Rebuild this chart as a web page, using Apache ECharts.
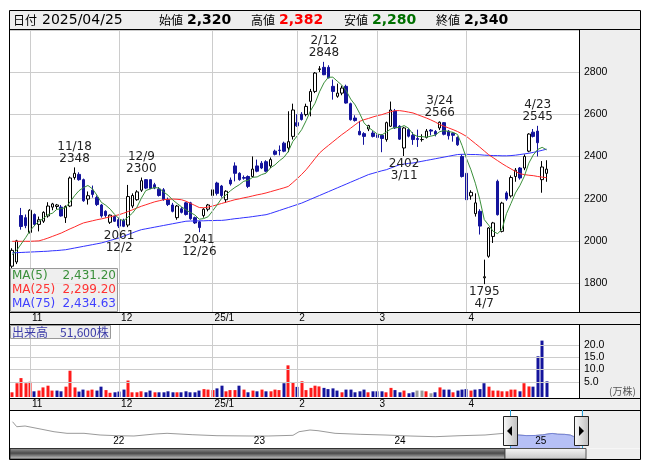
<!DOCTYPE html>
<html><head><meta charset="utf-8">
<script src="https://cdn.jsdelivr.net/npm/echarts@6.0.0/dist/echarts.min.js"></script>
<style>html,body{margin:0;padding:0;background:#fff}#c{width:653px;height:470px}</style>
</head><body><div id="c"></div><script>
const dates = [
'2024/10/28','2024/10/29','2024/10/30','2024/10/31',
'2024/11/01','2024/11/05','2024/11/06','2024/11/07','2024/11/08','2024/11/11','2024/11/12','2024/11/13','2024/11/14','2024/11/15','2024/11/18','2024/11/19','2024/11/20','2024/11/21','2024/11/22','2024/11/25','2024/11/26','2024/11/27','2024/11/28','2024/11/29',
'2024/12/02','2024/12/03','2024/12/04','2024/12/05','2024/12/06','2024/12/09','2024/12/10','2024/12/11','2024/12/12','2024/12/13','2024/12/16','2024/12/17','2024/12/18','2024/12/19','2024/12/20','2024/12/23','2024/12/24','2024/12/25','2024/12/26','2024/12/27','2024/12/30',
'2025/01/06','2025/01/07','2025/01/08','2025/01/09','2025/01/10','2025/01/14','2025/01/15','2025/01/16','2025/01/17','2025/01/20','2025/01/21','2025/01/22','2025/01/23','2025/01/24','2025/01/27','2025/01/28','2025/01/29','2025/01/30','2025/01/31',
'2025/02/03','2025/02/04','2025/02/05','2025/02/06','2025/02/07','2025/02/10','2025/02/12','2025/02/13','2025/02/14','2025/02/17','2025/02/18','2025/02/19','2025/02/20','2025/02/21','2025/02/25','2025/02/26','2025/02/27','2025/02/28',
'2025/03/03','2025/03/04','2025/03/05','2025/03/06','2025/03/07','2025/03/10','2025/03/11','2025/03/12','2025/03/13','2025/03/14','2025/03/17','2025/03/18','2025/03/19','2025/03/21','2025/03/24','2025/03/25','2025/03/26','2025/03/27','2025/03/28','2025/03/31',
'2025/04/01','2025/04/02','2025/04/03','2025/04/04','2025/04/07','2025/04/08','2025/04/09','2025/04/10','2025/04/11','2025/04/14','2025/04/15','2025/04/16','2025/04/17','2025/04/18','2025/04/21','2025/04/22','2025/04/23','2025/04/24','2025/04/25'];

const opens = [1880,1900,2120,2110,2040,2125,2078,2093,2118,2160,
2163,2160,2110,2165,2300,2315,2290,2198,2240,2205,
2170,2140,2088,2115,2100,2098,2075,2165,2195,2240,
2290,2290,2266,2245,2242,2195,2170,2110,2152,2180,
2180,2110,2090,2120,2150,2215,2274,2260,2195,2288,
2355,2320,2300,2305,2305,2355,2368,2375,2355,2425,
2430,2463,2440,2495,2560,2600,2598,2661,2708,2812,
2822,2822,2732,2685,2700,2732,2650,2582,2519,2508,
2530,2511,2503,2500,2480,2543,2615,2543,2440,2527,
2500,2485,2480,2490,2525,2518,2535,2560,2520,2510,
2490,2400,2320,2213,2129,2140,1825,1927,2021,2282,
2045,2227,2213,2305,2345,2345,2425,2515,2520,2290,2320];
const highs = [1965,2005,2156,2125,2150,2130,2115,2140,2183,2180,
2175,2170,2168,2305,2348,2325,2295,2234,2262,2215,
2175,2145,2125,2120,2110,2105,2265,2225,2240,2300,
2293,2292,2275,2255,2250,2205,2180,2170,2160,2185,
2185,2115,2095,2155,2175,2255,2280,2265,2240,2300,
2372,2325,2310,2310,2400,2385,2378,2382,2395,2432,
2452,2470,2614,2650,2600,2610,2650,2720,2800,2828,
2848,2832,2764,2745,2735,2740,2655,2595,2568,2515,
2550,2520,2510,2505,2565,2660,2625,2548,2540,2535,
2515,2527,2505,2530,2530,2525,2566,2563,2525,2515,
2495,2410,2330,2240,2225,2150,1911,2065,2090,2290,
2185,2235,2310,2345,2350,2410,2510,2530,2545,2378,2382];
const lows = [1866,1890,2053,2060,2035,2070,2045,2085,2110,2145,
2150,2115,2085,2160,2290,2285,2185,2172,2205,2165,
2110,2110,2080,2090,2061,2065,2065,2155,2190,2232,
2245,2245,2245,2210,2190,2165,2135,2100,2130,2120,
2100,2080,2041,2110,2140,2205,2215,2205,2180,2262,
2282,2285,2290,2250,2300,2325,2340,2325,2345,2405,
2405,2420,2420,2480,2540,2570,2590,2590,2700,2800,
2785,2770,2669,2678,2690,2650,2570,2565,2500,2455,
2520,2490,2470,2420,2470,2540,2530,2478,2402,2490,
2455,2445,2470,2485,2500,2495,2525,2500,2480,2470,
2450,2300,2190,2195,2115,2030,1795,1920,1990,2120,
2040,2190,2205,2280,2290,2335,2420,2490,2400,2228,2280];
const closes = [1955,2000,2068,2072,2145,2078,2100,2135,2165,2175,
2170,2118,2163,2298,2320,2290,2190,2214,2220,2172,
2118,2120,2122,2093,2070,2069,2210,2215,2232,2285,
2250,2248,2250,2215,2196,2172,2140,2165,2135,2125,
2105,2085,2063,2150,2170,2242,2225,2215,2235,2270,
2320,2290,2297,2258,2340,2330,2345,2330,2385,2410,
2428,2425,2470,2620,2545,2575,2637,2708,2795,2815,
2787,2772,2708,2700,2724,2653,2574,2570,2503,2495,
2546,2495,2490,2485,2560,2620,2535,2482,2535,2496,
2480,2480,2480,2520,2520,2505,2562,2505,2498,2500,
2455,2305,2195,2230,2180,2070,1830,2061,2085,2124,
2179,2198,2300,2335,2298,2400,2506,2495,2465,2350,2340];
const volumes = [7000,44000,65000,44000,50000,11000,14000,27000,34000,14000,
14000,11000,30000,95000,27000,10000,18000,14000,18000,14000,
30000,16000,5000,7000,10000,18000,55000,7000,7000,11000,
7000,14000,7000,7000,7000,11000,7000,7000,7000,11000,
7000,7000,14000,20000,18000,16000,23000,34000,11000,16000,
16000,34000,18000,7000,14000,11000,18000,11000,11000,18000,
16000,44000,117000,49000,29000,52000,16000,25000,34000,31000,
25000,20000,23000,14000,7000,18000,18000,7000,11000,18000,
7000,11000,11000,11000,7000,25000,16000,7000,14000,3000,
7000,14000,14000,11000,3000,7000,27000,18000,18000,7000,
14000,18000,20000,14000,18000,20000,44000,30000,14000,14000,
11000,11000,18000,18000,11000,44000,31000,30000,154000,218000,51600];
const ma5Head = [1935,1955,1985,2015];
const ma25 = [1998,1998,1998,1998,1998,1999,2000,2006,2013,2021,
2029,2037,2047,2057,2066,2076,2085,2090,2095,2100,
2104,2109,2114,2119,2124,2131,2139,2147,2156,2164,
2171,2178,2185,2190,2195,2197,2198,2197,2195,2188,
2178,2168,2158,2157,2160,2165,2171,2177,2183,2189,
2195,2199,2204,2208,2213,2218,2222,2227,2233,2239,
2245,2251,2258,2276,2295,2315,2337,2363,2390,2416,
2435,2452,2469,2486,2503,2518,2534,2550,2566,2574,
2580,2587,2593,2598,2605,2612,2617,2617,2614,2610,
2606,2598,2590,2582,2573,2563,2551,2543,2535,2527,
2518,2507,2495,2478,2461,2444,2426,2408,2394,2380,
2366,2353,2341,2329,2318,2314,2311,2309,2305,2302,2299.2];
const ma75 = [1943,1944,1945,1946,1947,1948,1949,1950,1951,1953,
1954,1956,1958,1962,1966,1970,1974,1978,1982,1986,
1990,1996,2002,2008,2014,2022,2030,2038,2046,2053,
2057,2061,2065,2069,2073,2077,2081,2085,2089,2093,
2094,2094,2095,2095,2096,2096,2097,2097,2099,2102,
2105,2107,2110,2112,2115,2118,2121,2124,2130,2137,
2144,2151,2158,2165,2172,2179,2188,2197,2206,2215,
2224,2233,2242,2251,2260,2269,2278,2287,2296,2305,
2314,2320,2326,2332,2337,2345,2353,2361,2364,2367,
2369,2373,2377,2381,2385,2389,2393,2397,2401,2405,
2409,2410,2410,2409,2409,2408,2406,2405,2404,2404,
2403,2403,2404,2406,2409,2412,2415,2419,2424,2429,2434.63];
const monthStartDates = ['2024/11/01','2024/12/02','2025/01/06','2025/02/03','2025/03/03','2025/04/01'];
const monthLabels = ['11','12','25/1','2','3','4'];
const highMarks = ['2024/11/18','2024/12/09','2025/02/12','2025/03/24','2025/04/23'];
const lowMarks = ['2024/12/02','2024/12/26','2025/03/11','2025/04/07'];
const priceTicks = [1800,2000,2200,2400,2600,2800];
const volTicks = [50000,100000,150000,200000];
const navYears = [2021.285,2021.315,2021.374,2021.494,2021.580,2021.672,2021.793,2021.907,2022.027,2022.148,2022.298,2022.383,2022.561,2022.738,2022.980,2023.101,2023.278,2023.321,2023.399,2023.456,2023.577,2023.755,2023.932,2024.110,2024.288,2024.465,2024.643,2024.778,2024.820,2024.870,2024.940,2025.000,2025.050,2025.090,2025.120,2025.160,2025.210,2025.250,2025.270,2025.300,2025.320];
const navPrices = [6550,4950,5180,4120,3350,2840,2840,2300,2080,1980,2620,2840,2400,2080,1980,1980,2200,3350,3900,3680,2840,2520,2300,1980,1760,2080,2300,2840,1950,2320,2100,2150,2330,2620,2800,2550,2500,2250,1830,2300,2340];
const navYearTicks = [2022,2023,2024,2025];
const navYearLabels = ['22','23','24','25'];
const selStart = 2024.82, selEnd = 2025.325;

const PAD = 7;
const N = dates.length;
const cats = dates.concat(Array.from({length: PAD}, (_, k) => 'pad' + k));
const monthIdx = monthStartDates.map(d => dates.indexOf(d));
const labelMap = {}; monthStartDates.forEach((d, k) => { labelMap[d] = monthLabels[k]; });
const md = d => { const p = d.split('/'); return (+p[1]) + '/' + (+p[2]); };
const ma5 = closes.map((c, i) => i < 4 ? ma5Head[i] :
  (closes[i-4] + closes[i-3] + closes[i-2] + closes[i-1] + closes[i]) / 5);
const ohlc = dates.map((d, i) => [opens[i], closes[i], lows[i], highs[i]]);
const fmt0 = v => v.toLocaleString('en-US');
const fmt2 = v => v.toLocaleString('en-US', {minimumFractionDigits: 2, maximumFractionDigits: 2});
const RED = '#ff1a1a', BLUE = '#14149c', GRAY = '#9a9a9a';
const volColor = i => i === 0 ? RED : (closes[i] > closes[i-1] ? RED : (closes[i] < closes[i-1] ? BLUE : GRAY));
const VMIN = -12200, VMAX = 281700;
const L = N - 1;

const chart = echarts.init(document.getElementById('c'), null, {renderer: 'canvas'});
const numFont = 'Liberation Sans';
const T = (x, y, text, font, fill, align) => ({type: 'text', x: x, y: y, z: 40, silent: true,
  style: {text: text, font: font, fill: fill, textAlign: align || 'left', align: align || 'left', textVerticalAlign: 'middle', verticalAlign: 'middle'}});
const R = (x, y, w, h, fill, stroke, z) => ({type: 'rect', z: z, silent: true, shape: {x: x, y: y, width: w, height: h},
  style: {fill: fill, stroke: stroke || null, lineWidth: 1}});
const Ln = (x1, y1, x2, y2, color, z) => ({type: 'line', z: z || 30, silent: true, shape: {x1: x1, y1: y1, x2: x2, y2: y2},
  style: {stroke: color || '#000', lineWidth: 1}});
const bgGray = '#eeeeee';
const cjk = '"Noto Sans CJK JP"';

const graphics = [
  R(10, 10, 630, 20, bgGray, null, -5),
  R(580, 30, 60, 282, bgGray, null, -5),
  R(10, 312, 630, 13, bgGray, null, -5),
  R(580, 325, 60, 74, bgGray, null, -5),
  R(10, 399, 630, 11, bgGray, null, -5),
  R(581, 410, 59, 38, bgGray, null, -5),
  {type: 'rect', z: 30, silent: true, shape: {x: 10, y: 448.5, width: 495, height: 10.5},
    style: {fill: {type: 'linear', x: 0, y: 0, x2: 0, y2: 1, colorStops: [{offset: 0, color: '#9a9a9a'}, {offset: 0.45, color: '#4a4a4a'}, {offset: 1, color: '#d0d0d0'}]}, stroke: '#333', lineWidth: 1}},
  {type: 'rect', z: 30, silent: true, shape: {x: 505, y: 448.5, width: 81, height: 10.5},
    style: {fill: {type: 'linear', x: 0, y: 0, x2: 0, y2: 1, colorStops: [{offset: 0, color: '#f6f6f6'}, {offset: 1, color: '#c4c4c4'}]}, stroke: '#555', lineWidth: 1}},
  R(586, 448.5, 54, 10.5, bgGray, null, 29),
  Ln(510.5, 410, 510.5, 448, '#2aa0d8', 31),
  Ln(582.5, 410, 582.5, 448, '#2aa0d8', 31),
  {type: 'rect', z: 35, silent: true, shape: {x: 503.5, y: 416.5, width: 14, height: 29},
    style: {fill: {type: 'linear', x: 0, y: 0, x2: 1, y2: 0, colorStops: [{offset: 0, color: '#fbfbfb'}, {offset: 1, color: '#bdbdbd'}]}, stroke: '#222', lineWidth: 1}},
  {type: 'polygon', z: 36, silent: true, shape: {points: [[512, 426], [512, 436], [507, 431]]}, style: {fill: '#000'}},
  {type: 'rect', z: 35, silent: true, shape: {x: 574.5, y: 416.5, width: 14, height: 29},
    style: {fill: {type: 'linear', x: 0, y: 0, x2: 1, y2: 0, colorStops: [{offset: 0, color: '#fbfbfb'}, {offset: 1, color: '#bdbdbd'}]}, stroke: '#222', lineWidth: 1}},
  {type: 'polygon', z: 36, silent: true, shape: {points: [[579, 426], [579, 436], [584, 431]]}, style: {fill: '#000'}},
  {type: 'rect', z: 30, silent: true, shape: {x: 9.5, y: 10.5, width: 631, height: 449}, style: {fill: null, stroke: '#000', lineWidth: 1}},
  Ln(10, 29.5, 640, 29.5),
  Ln(579.5, 30, 579.5, 312),
  Ln(579.5, 325, 579.5, 398.5),
  Ln(10, 312.5, 640, 312.5),
  Ln(10, 324.5, 640, 324.5),
  Ln(10, 398.5, 640, 398.5),
  Ln(10, 410.5, 640, 410.5),
  T(13, 20, '日付', '12px ' + cjk, '#000'),
  T(42, 20, dates[L], '14px "DejaVu Sans"', '#000'),
  T(159, 20, '始値', '12px ' + cjk, '#000'),
  T(187, 20, fmt0(opens[L]), 'bold 14px "DejaVu Sans"', '#000'),
  T(251, 20, '高値', '12px ' + cjk, '#000'),
  T(279, 20, fmt0(highs[L]), 'bold 14px "DejaVu Sans"', '#ff0000'),
  T(344, 20, '安値', '12px ' + cjk, '#000'),
  T(372, 20, fmt0(lows[L]), 'bold 14px "DejaVu Sans"', '#007000'),
  T(436, 20, '終値', '12px ' + cjk, '#000'),
  T(464, 20, fmt0(closes[L]), 'bold 14px "DejaVu Sans"', '#000'),
  R(10.5, 268.5, 107, 43, 'rgba(236,236,236,0.85)', '#999', 38),
  T(12, 276, 'MA(5)', '12px "DejaVu Sans"', '#3a8f3a'),
  T(116, 276, fmt2(ma5[L]), '12px "DejaVu Sans"', '#3a8f3a', 'right'),
  T(12, 290, 'MA(25)', '12px "DejaVu Sans"', '#ff3333'),
  T(116, 290, fmt2(ma25[L]), '12px "DejaVu Sans"', '#ff3333', 'right'),
  T(12, 304, 'MA(75)', '12px "DejaVu Sans"', '#3f3fff'),
  T(116, 304, fmt2(ma75[L]), '12px "DejaVu Sans"', '#3f3fff', 'right'),
  R(10.5, 325.5, 100, 13, 'rgba(236,236,236,0.85)', '#999', 38),
  T(12, 332, '出来高　' + fmt0(volumes[L]) + '株', '12px ' + cjk, '#3c3ca8'),
  T(609, 391, '(万株)', '10px ' + cjk, '#555')
];

const gridLineStyle = {color: '#cccccc', width: 1, type: 'solid'};
const markBase = {silent: true, symbol: ['none', 'none'], label: {show: false}, lineStyle: gridLineStyle, animation: false, emphasis: {disabled: true}};

const xCat = (gi, showLabels) => ({
  type: 'category', gridIndex: gi, data: cats, boundaryGap: true,
  axisLine: {show: false}, axisTick: {show: false}, splitLine: {show: false},
  axisLabel: {show: showLabels, interval: 0, align: 'left', padding: [0, 0, 0, 2], margin: gi === 0 ? 1 : 2,
    fontSize: 10, fontFamily: numFont, color: '#000', lineHeight: 11,
    formatter: v => labelMap[v] || ''}
});

const option = {
  animation: false,
  backgroundColor: '#ffffff',
  grid: [
    {left: 10, right: 73, top: 30, height: 282, outerBoundsMode: 'none', containLabel: false},
    {left: 10, right: 73, top: 325, height: 72, outerBoundsMode: 'none', containLabel: false},
    {left: 10, right: 72, top: 410, height: 38, outerBoundsMode: 'none', containLabel: false}
  ],
  xAxis: [
    xCat(0, true), xCat(1, true),
    {type: 'value', gridIndex: 2, min: 2021.267, max: 2025.325, splitNumber: 4, z: 10,
      axisLine: {show: false}, axisTick: {show: false}, splitLine: {show: false},
      axisLabel: {inside: true, margin: 2, align: 'left', fontSize: 10, fontFamily: numFont, color: '#000',
        showMaxLabel: true,
        formatter: v => { const k = navYearTicks.indexOf(v); return k >= 0 ? navYearLabels[k] : ''; }}}
  ],
  yAxis: [
    {type: 'value', gridIndex: 0, position: 'right', min: 1663, max: 2999, splitNumber: 7, scale: true,
      axisLine: {show: false}, axisTick: {show: false},
      splitLine: {show: true, lineStyle: gridLineStyle},
      axisLabel: {margin: 4, fontSize: 10.5, fontFamily: numFont, color: '#000',
        formatter: v => priceTicks.indexOf(v) >= 0 ? String(v) : ''}},
    {type: 'value', gridIndex: 1, position: 'right', min: VMIN, max: VMAX, splitNumber: 6,
      axisLine: {show: false}, axisTick: {show: false}, splitLine: {show: false},
      axisLabel: {margin: 4, fontSize: 10.5, fontFamily: numFont, color: '#000',
        formatter: v => volTicks.indexOf(v) >= 0 ? (v / 10000).toFixed(1) : ''}},
    {type: 'value', gridIndex: 2, min: -1860, max: 10300, show: false}
  ],
  graphic: {elements: graphics},
  series: [
    {type: 'line', xAxisIndex: 0, yAxisIndex: 0, data: [], z: 1, silent: true,
      markLine: Object.assign({}, markBase, {data: monthIdx.map(i => ({xAxis: i}))})},
    {type: 'candlestick', xAxisIndex: 0, yAxisIndex: 0, data: ohlc, barWidth: 3, z: 3, silent: true,
      itemStyle: {color: '#ffffff', color0: '#14149c', borderColor: '#000000', borderColor0: '#14149c', borderWidth: 1},
      markPoint: {silent: true, symbol: 'circle', symbolSize: 1, itemStyle: {color: 'rgba(0,0,0,0)'}, animation: false,
        label: {show: true, fontSize: 12, fontFamily: 'DejaVu Sans', color: '#222', lineHeight: 12},
        data: highMarks.map(d => { const i = dates.indexOf(d); return {coord: [d, highs[i]],
            label: {position: 'top', distance: 2, formatter: md(d) + '\n' + highs[i]}}; })
          .concat(lowMarks.map(d => { const i = dates.indexOf(d); return {coord: [d, lows[i]],
            label: {position: 'bottom', distance: 1, formatter: lows[i] + '\n' + md(d)}}; }))}},
    {type: 'line', xAxisIndex: 0, yAxisIndex: 0, data: ma75, symbol: 'none', z: 4, silent: true, lineStyle: {color: '#3333ff', width: 1}},
    {type: 'line', xAxisIndex: 0, yAxisIndex: 0, data: ma25, symbol: 'none', z: 4, silent: true, lineStyle: {color: '#ff2a2a', width: 1}},
    {type: 'line', xAxisIndex: 0, yAxisIndex: 0, data: ma5, symbol: 'none', z: 4, silent: true, lineStyle: {color: '#3a8f3a', width: 1}},
    {type: 'line', xAxisIndex: 1, yAxisIndex: 1, data: [], z: 1, silent: true,
      markLine: Object.assign({}, markBase, {data: monthIdx.map(i => ({xAxis: i})).concat(volTicks.map(v => ({yAxis: v})))})},
    {type: 'custom', xAxisIndex: 1, yAxisIndex: 1, silent: true, z: 3,
      data: volumes.map((v, i) => [i, v]),
      renderItem: (params, api) => {
        const i = api.value(0), v = api.value(1);
        const top = api.coord([i, v]);
        const base = api.coord([i, VMIN]);
        return {type: 'rect', shape: {x: Math.round(top[0]) - 1.5, y: top[1], width: 3, height: base[1] - top[1]},
          style: {fill: volColor(params.dataIndex)}};
      }},
    {type: 'line', xAxisIndex: 2, yAxisIndex: 2, data: navYears.map((y, i) => [y, navPrices[i]]), symbol: 'none', silent: true, z: 3,
      lineStyle: {color: '#9a9a9a', width: 1}},
    {type: 'line', xAxisIndex: 2, yAxisIndex: 2, data: navYears.map((y, i) => [y, navPrices[i]]).filter(p => p[0] >= selStart && p[0] <= selEnd),
      symbol: 'none', silent: true, z: 4, lineStyle: {color: '#7482d6', width: 1}, areaStyle: {color: '#b6c0f6', opacity: 1, origin: 'start'}}
  ]
};
chart.setOption(option);
</script></body></html>
